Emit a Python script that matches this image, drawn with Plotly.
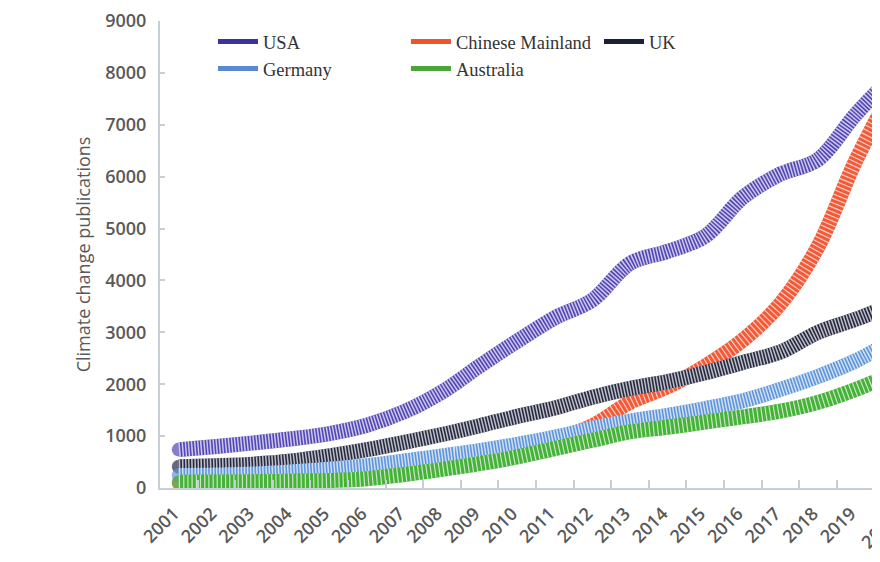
import plotly.graph_objects as go

years = ["2001", "2002", "2003", "2004", "2005", "2006", "2007", "2008", "2009", "2010",
         "2011", "2012", "2013", "2014", "2015", "2016", "2017", "2018", "2019", "2020"]

usa = [740, 800, 870, 950, 1050, 1210, 1470, 1850, 2350, 2830,
       3280, 3620, 4330, 4560, 4850, 5600, 6050, 6330, 7200, 7950]
chinese_mainland = [90, 100, 120, 150, 190, 250, 330, 430, 560, 720,
                    920, 1200, 1650, 1950, 2350, 2850, 3550, 4650, 6300, 7700]
uk = [410, 430, 460, 520, 620, 740, 880, 1030, 1200, 1380,
      1540, 1750, 1920, 2050, 2220, 2420, 2620, 3000, 3250, 3550]
germany = [240, 250, 270, 310, 360, 430, 520, 620, 720, 840,
           980, 1150, 1290, 1400, 1530, 1680, 1900, 2150, 2450, 2850]
australia = [110, 115, 120, 130, 145, 180, 260, 360, 470, 600,
             760, 920, 1080, 1170, 1270, 1370, 1480, 1650, 1900, 2200]

y_ticks = [0, 1000, 2000, 3000, 4000, 5000, 6000, 7000, 8000, 9000]

series = [
    # name, values, band colour, legend colour, hatch dash
    ("USA", usa, "#5247b6", "#3b329e", "1.5px,1.6px"),
    ("Chinese Mainland", chinese_mainland, "#f25a38", "#f0542c", "1.2px,3px"),
    ("UK", uk, "#272b42", "#1c2036", "1.5px,1.6px"),
    ("Germany", germany, "#5f95da", "#5a88d2", "1.5px,1.6px"),
    ("Australia", australia, "#47b23a", "#4aa63a", "1.2px,3px"),
]

BAND = 15
# rounded start cap: a dot only on the first point of each band
cap_sizes = [BAND - 1] + [0] * (len(years) - 1)

fig = go.Figure()
for name, vals, col, lcol, dash in series:
    fig.add_trace(go.Scatter(
        x=years, y=vals, mode="lines+markers", name=name, showlegend=False,
        line=dict(color=col, width=BAND, shape="spline", smoothing=1),
        marker=dict(size=cap_sizes, color=col, line=dict(width=0)),
        hoverinfo="skip"))
    fig.add_trace(go.Scatter(
        x=years, y=vals, mode="lines", showlegend=False,
        line=dict(color="rgba(255,255,255,0.7)", width=BAND, shape="spline",
                  smoothing=1, dash=dash),
        hoverinfo="skip"))

for name, vals, col, lcol, dash in series:
    fig.add_trace(go.Scatter(
        x=[None], y=[None], mode="lines", name=name,
        line=dict(color=lcol, width=5)))

axis_col = "#c6ced6"
tick_font = dict(family="Open Sans", size=18, color="#595959", weight=600)

# the page body has an 8px default margin, so the figure is sized to fill the
# visible 880x562 window from (8, 8)
fig.update_layout(
    width=872, height=554,
    margin=dict(l=152, r=0, t=13, b=74),
    paper_bgcolor="white", plot_bgcolor="white",
    xaxis=dict(
        type="category", range=[-0.5, 18.65], tickson="boundaries",
        showgrid=False, zeroline=False, automargin=False,
        showline=True, linecolor=axis_col, linewidth=2,
        ticks="inside", ticklen=8, tickcolor=axis_col, tickwidth=1.5,
        tickangle=-45, tickfont=tick_font,
        ticklabelshift=-5, ticklabelstandoff=6,
    ),
    yaxis=dict(
        range=[0, 9000], tickvals=y_ticks, showgrid=False, zeroline=False,
        automargin=False,
        showline=True, linecolor=axis_col, linewidth=2,
        ticks="inside", ticklen=5, tickcolor=axis_col, tickwidth=1.5,
        tickfont=tick_font, ticklabelstandoff=8,
        title=dict(text="Climate change publications",
                   font=dict(family="Open Sans", size=18, color="#595959"),
                   standoff=10),
    ),
    legend=dict(
        orientation="h", x=0.0736, xanchor="left", y=0.9957, yanchor="top",
        entrywidth=138, entrywidthmode="pixels", itemwidth=40,
        font=dict(family="Liberation Serif", size=18.5, color="#333333"),
        bgcolor="rgba(0,0,0,0)", tracegroupgap=0,
    ),
    annotations=[dict(
        text="2020", xref="paper", yref="paper", x=0.9986, y=-0.090,
        xanchor="center", yanchor="middle", textangle=-45, showarrow=False,
        font=tick_font)],
)

fig.write_html("out.html")
